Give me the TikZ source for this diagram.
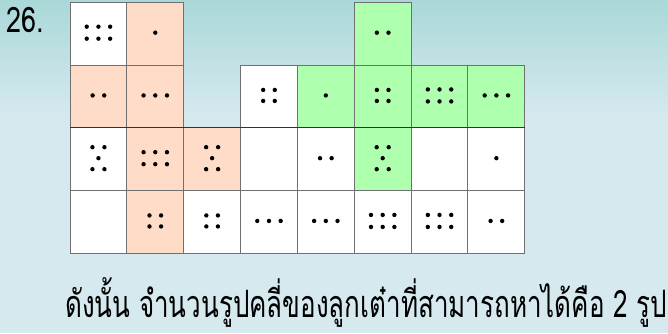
\documentclass[tikz,border=0pt]{standalone}
\usepackage{fontspec}
\newfontfamily\thaifont[Script=Thai]{Loma}
\definecolor{bgA}{RGB}{170,216,216}
\definecolor{bgB}{RGB}{213,233,239}
\definecolor{peach}{RGB}{255,220,200}
\definecolor{mint}{RGB}{174,255,174}
\definecolor{gridline}{RGB}{112,112,112}
\tikzset{
  cell/.style={draw=gridline, line width=1pt, minimum width=56.85pt, minimum height=62.75pt, inner sep=0pt, outer sep=0pt, anchor=north west},
  wcell/.style={cell, fill=white},
  pcell/.style={cell, fill=peach},
  gcell/.style={cell, fill=mint},
}
\newcommand{\pips}[2]{\foreach \dx/\dy in #2 {\fill ([shift={(\dx,\dy)}]#1.center) circle (2.2pt);}}
\def\fA{0/-1}
\def\fB{-5.8/-1,5.8/-1}
\def\fC{-11.7/-1,0/-1,11.7/-1}
\def\fD{-5.8/-6.5,5.8/-6.5,-5.8/4.5,5.8/4.5}
\def\fE{-6/-12,6/-12,0/-1,-6/10,6/10}
\def\fF{-11.7/-7,0/-7,11.7/-7,-11.7/5,0/5,11.7/5}
\begin{document}
\begin{tikzpicture}[x=1pt,y=-1pt]
\useasboundingbox (0,0) rectangle (668,333);
\fill[bgB] (0,0) rectangle (668,333);
\shade[top color=bgA, bottom color=bgB] (0,0) rectangle (668,115);
% row 1
\node[wcell] (c11) at (70,2.3) {};
\node[pcell] (c12) at (126.85,2.3) {};
\node[gcell] (c16) at (354.25,2.3) {};
% row 2
\node[pcell] (c21) at (70,65.05) {};
\node[pcell] (c22) at (126.85,65.05) {};
\node[wcell] (c24) at (240.55,65.05) {};
\node[gcell] (c25) at (297.4,65.05) {};
\node[gcell] (c26) at (354.25,65.05) {};
\node[gcell] (c27) at (411.1,65.05) {};
\node[gcell] (c28) at (467.95,65.05) {};
% row 3
\node[wcell] (c31) at (70,127.8) {};
\node[pcell] (c32) at (126.85,127.8) {};
\node[pcell] (c33) at (183.7,127.8) {};
\node[wcell] (c34) at (240.55,127.8) {};
\node[wcell] (c35) at (297.4,127.8) {};
\node[gcell] (c36) at (354.25,127.8) {};
\node[wcell] (c37) at (411.1,127.8) {};
\node[wcell] (c38) at (467.95,127.8) {};
% row 4
\node[wcell] (c41) at (70,190.55) {};
\node[pcell] (c42) at (126.85,190.55) {};
\node[wcell] (c43) at (183.7,190.55) {};
\node[wcell] (c44) at (240.55,190.55) {};
\node[wcell] (c45) at (297.4,190.55) {};
\node[wcell] (c46) at (354.25,190.55) {};
\node[wcell] (c47) at (411.1,190.55) {};
\node[wcell] (c48) at (467.95,190.55) {};
\draw[line width=1pt, black!80] (c31.north west) -- (c38.north east);
% pips
\pips{c11}{\fF}
\pips{c12}{\fA}
\pips{c16}{\fB}
\pips{c21}{\fB}
\pips{c22}{\fC}
\pips{c24}{\fD}
\pips{c25}{\fA}
\pips{c26}{\fD}
\pips{c27}{\fF}
\pips{c28}{\fC}
\pips{c31}{\fE}
\pips{c32}{\fF}
\pips{c33}{\fE}
\pips{c35}{\fB}
\pips{c36}{\fE}
\pips{c38}{\fA}
\pips{c42}{\fD}
\pips{c43}{\fD}
\pips{c44}{\fC}
\pips{c45}{\fC}
\pips{c46}{\fF}
\pips{c47}{\fF}
\pips{c48}{\fB}
% texts
\node[anchor=base west, inner sep=0pt, font=\thaifont\fontsize{27}{30}\selectfont] (num) at (6,32) {\scalebox{1}[1.3]{26.}};
\node[anchor=base west, inner sep=0pt, font=\thaifont\fontsize{26}{30}\selectfont] (ans) at (65,317) {\scalebox{1}[1.45]{ดังนั้น จำนวนรูปคลี่ของลูกเต๋าที่สามารถหาได้คือ 2 รูป}};
\end{tikzpicture}
\end{document}
